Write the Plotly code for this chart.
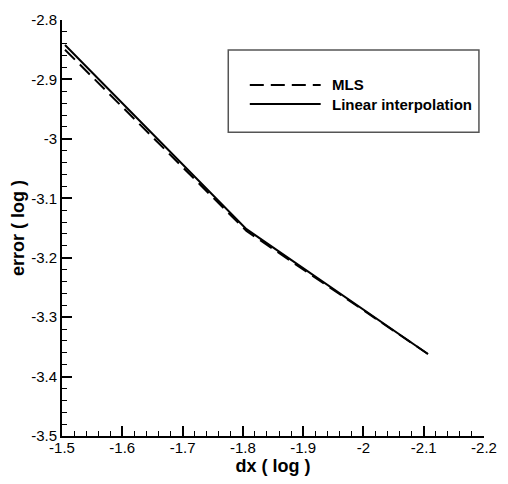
import plotly.graph_objects as go

# data
dx_log = [-1.505, -1.806, -2.107]
mls_err = [-2.850, -3.155, -3.362]
lin_err = [-2.842, -3.152, -3.362]

x_ticks = [-1.5, -1.6, -1.7, -1.8, -1.9, -2.0, -2.1, -2.2]
x_ticktext = ["-1.5", "-1.6", "-1.7", "-1.8", "-1.9", "-2", "-2.1", "-2.2"]
y_ticks = [-2.8, -2.9, -3.0, -3.1, -3.2, -3.3, -3.4, -3.5]
y_ticktext = ["-2.8", "-2.9", "-3", "-3.1", "-3.2", "-3.3", "-3.4", "-3.5"]

FONT = "Liberation Sans, Arial, sans-serif"
DASH = "14px,7px"

fig = go.Figure()
fig.add_trace(go.Scatter(x=dx_log, y=mls_err, mode="lines", name="MLS",
                         line=dict(color="black", width=2, dash=DASH)))
fig.add_trace(go.Scatter(x=dx_log, y=lin_err, mode="lines", name="Linear interpolation",
                         line=dict(color="black", width=2)))

axis_common = dict(showgrid=False, zeroline=False, showline=True, linecolor="black",
                   linewidth=2, ticks="inside", ticklen=10, tickwidth=2, tickcolor="black",
                   tickfont=dict(family=FONT, size=15, color="black"),
                   minor=dict(ticks="inside", ticklen=5, tickwidth=1, tickcolor="black", dtick=0.02))

fig.update_xaxes(range=[-1.5, -2.2], tickvals=x_ticks, ticktext=x_ticktext, ticklabelstandoff=-3,
                 title=dict(text="<b>dx ( log )</b>", font=dict(family=FONT, size=18, color="black"), standoff=4),
                 **axis_common)
fig.update_yaxes(range=[-3.5, -2.8], tickvals=y_ticks, ticktext=y_ticktext,
                 title=dict(text="<b>error ( log )</b>", font=dict(family=FONT, size=18, color="black"), standoff=2),
                 **axis_common)

# legend box drawn manually
fig.add_shape(type="rect", xref="paper", yref="paper", x0=0.394, x1=0.988, y0=0.730, y1=0.928,
              line=dict(color="#555555", width=1.5), fillcolor="white", layer="below")
fig.add_shape(type="line", xref="paper", yref="paper", x0=0.445, x1=0.613, y0=0.844, y1=0.844,
              line=dict(color="black", width=2, dash=DASH))
fig.add_shape(type="line", xref="paper", yref="paper", x0=0.445, x1=0.613, y0=0.798, y1=0.798,
              line=dict(color="black", width=2))
fig.add_annotation(xref="paper", yref="paper", x=0.636, y=0.844, text="<b>MLS</b>", showarrow=False,
                   xanchor="left", yanchor="middle", font=dict(family=FONT, size=15, color="black"))
fig.add_annotation(xref="paper", yref="paper", x=0.636, y=0.798, text="<b>Linear interpolation</b>",
                   showarrow=False, xanchor="left", yanchor="middle",
                   font=dict(family=FONT, size=15, color="black"))

fig.update_layout(width=508, height=484, margin=dict(l=62, r=15, t=11, b=44),
                  plot_bgcolor="white", paper_bgcolor="white", showlegend=False,
                  font=dict(family=FONT, color="black"))

fig.write_html("out.html")
